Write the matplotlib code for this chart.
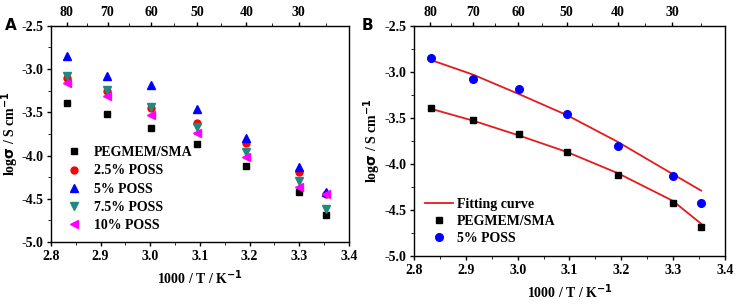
import numpy as np
import matplotlib.pyplot as plt
from matplotlib.ticker import MultipleLocator, FixedLocator

plt.rcParams['font.family'] = ['Liberation Serif', 'DejaVu Serif']
plt.rcParams['font.weight'] = 'bold'
plt.rcParams['axes.labelweight'] = 'bold'

# temperatures (C) and 1000/T values
temps = [80, 70, 60, 50, 40, 30, 25]
inv_t = [2.832, 2.914, 3.002, 3.095, 3.193, 3.299, 3.354]

pegmem = [-3.39, -3.52, -3.68, -3.87, -4.12, -4.42, -4.69]
poss_25 = [-3.10, -3.25, -3.45, -3.62, -3.85, -4.19, -4.45]
poss_5 = [-2.85, -3.08, -3.19, -3.46, -3.80, -4.13, -4.42]
poss_75 = [-3.08, -3.24, -3.44, -3.67, -3.96, -4.30, -4.62]
poss_10 = [-3.16, -3.31, -3.53, -3.74, -4.02, -4.36, -4.45]

# fitting curves
fit_pegmem = [-3.40, -3.53, -3.69, -3.87, -4.10, -4.40, -4.65]
fit_poss5 = [-2.87, -3.03, -3.24, -3.47, -3.76, -4.11, -4.29]

top_labels = [80, 70, 60, 50, 40, 30]
top_minor = [75, 65, 55, 45, 35, 25]

fig = plt.figure(figsize=(7.37, 3.04), dpi=100)
axA = fig.add_axes([0.069, 0.204, 0.4045, 0.711])
axB = fig.add_axes([0.5617, 0.158, 0.422, 0.757])

ms = 5
axA.plot(inv_t, pegmem, 's', color='black', ms=ms, label='PEGMEM/SMA')
axA.plot(inv_t, poss_25, 'o', color='red', ms=ms, label='2.5% POSS')
axA.plot(inv_t, poss_5, '^', color='blue', ms=ms + 0.5, label='5% POSS')
axA.plot(inv_t, poss_75, 'v', color='#1f8a80', ms=ms + 0.5, label='7.5% POSS')
axA.plot(inv_t, poss_10, '<', color='magenta', ms=ms + 0.5, label='10% POSS')
axA.legend(loc='lower left', frameon=False, handletextpad=0.4,
           labelspacing=0.38, borderaxespad=0.3, bbox_to_anchor=(0.0, 0.0),
           prop={'weight': 'bold', 'size': 10})

axB.plot(inv_t, fit_pegmem, '-', color='#e41a1c', lw=1.3, label='Fitting curve')
axB.plot(inv_t, fit_poss5, '-', color='#e41a1c', lw=1.3)
axB.plot(inv_t, pegmem, 's', color='black', ms=ms, label='PEGMEM/SMA')
axB.plot(inv_t, poss_5, 'o', color='blue', ms=ms + 0.5, label='5% POSS')
axB.legend(loc='lower left', frameon=False, handletextpad=0.3,
           labelspacing=0.3, borderaxespad=0.4, bbox_to_anchor=(0.0, 0.0),
           prop={'weight': 'bold', 'size': 10})

for ax in (axA, axB):
    ax.set_xlim(2.8, 3.4)
    ax.set_ylim(-5.0, -2.5)
    ax.xaxis.set_major_locator(MultipleLocator(0.1))
    ax.xaxis.set_minor_locator(MultipleLocator(0.05))
    ax.yaxis.set_major_locator(MultipleLocator(0.5))
    ax.yaxis.set_minor_locator(MultipleLocator(0.25))
    ax.set_xticks(ax.get_xticks())
    ax.set_xticklabels(['%.1f' % v for v in ax.get_xticks()])
    ax.set_yticks(ax.get_yticks())
    ax.set_yticklabels(['%.1f' % v for v in ax.get_yticks()])
    ax.set_xlim(2.8, 3.4)
    ax.set_ylim(-5.0, -2.5)
    ax.tick_params(labelsize=10, width=1, length=3, pad=2.5)
    ax.tick_params(which='minor', length=2)
    ax.set_xlabel('1000 / T / K$^{\\mathbf{-1}}$', fontsize=10, labelpad=4)
    ax.set_ylabel('log$\\mathbf{\\sigma}$ / S cm$^{\\mathbf{-1}}$', fontsize=10, labelpad=1)
    for s in ax.spines.values():
        s.set_linewidth(1.0)
        s.set_color('#333333')

    top = ax.twiny()
    top.set_xlim(ax.get_xlim())
    top.xaxis.set_major_locator(FixedLocator([1000 / (t + 273.15) for t in top_labels]))
    top.xaxis.set_minor_locator(FixedLocator([1000 / (t + 273.15) for t in top_minor]))
    top.set_xticklabels([str(t) for t in top_labels])
    top.tick_params(labelsize=10, width=1, length=3, pad=2)
    top.tick_params(which='minor', length=2)

axA.yaxis.set_label_coords(-0.1, 0.5)

fig.text(0.006, 0.9, 'A', fontsize=11, fontweight='bold', family='DejaVu Sans')
fig.text(0.49, 0.9, 'B', fontsize=11, fontweight='bold', family='DejaVu Sans')

fig.savefig('out.png', dpi=100)
